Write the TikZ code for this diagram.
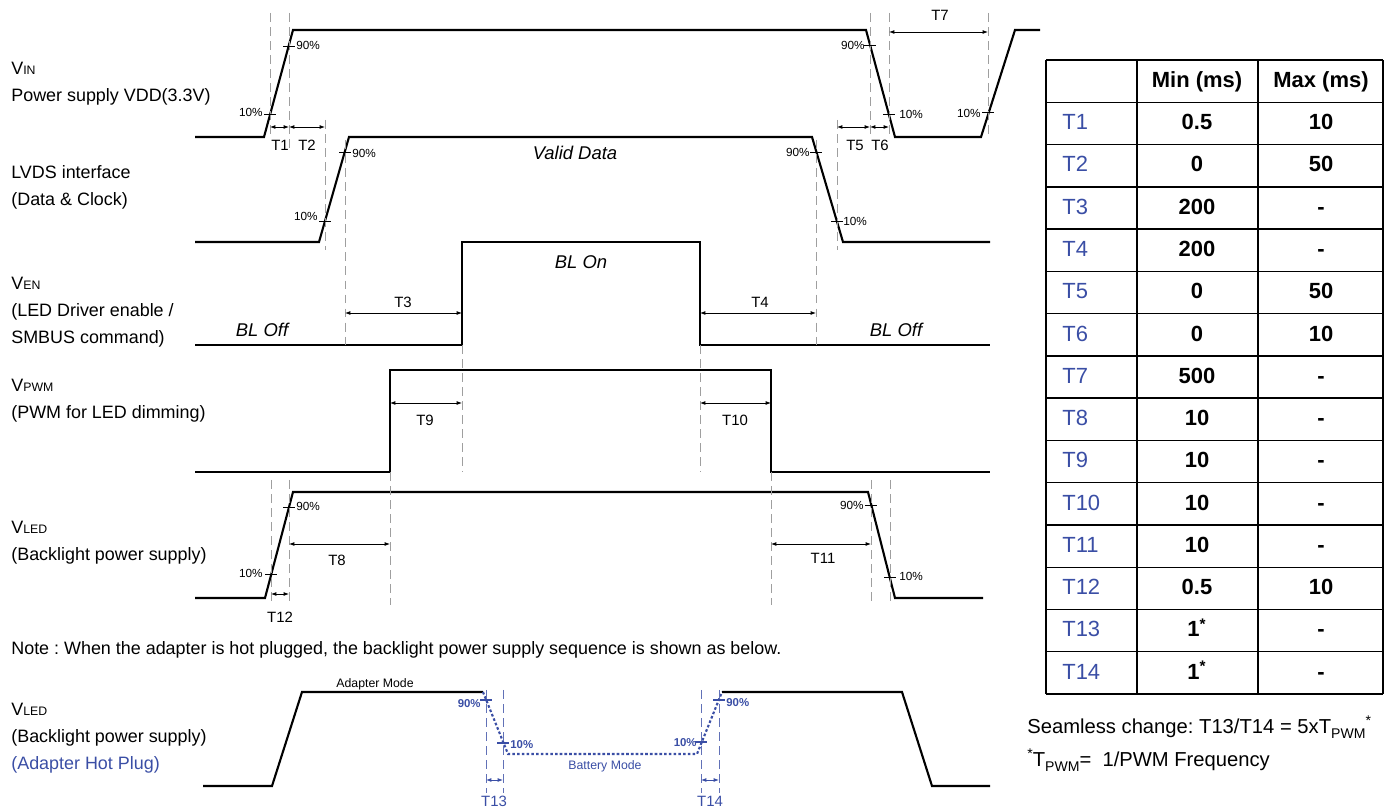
\documentclass[tikz,border=0pt]{standalone}
\usepackage{fontspec}
\setmainfont{Liberation Sans}
\usetikzlibrary{arrows.meta}
\frenchspacing
\definecolor{tblue}{RGB}{58,78,165}
\newcommand{\sigsub}[1]{{\fontsize{7}{8}\selectfont #1}}
\tikzset{
  sig/.style={line width=1.2pt, line join=miter},
  hotsig/.style={line width=1.2pt, tblue, dash pattern=on 1.5pt off 1.2pt},
  guide/.style={gray!75, line width=0.5pt, dash pattern=on 5pt off 3pt},
  hotguide/.style={tblue!80, line width=0.5pt, dash pattern=on 5pt off 3pt},
  dimarr/.style={{Latex[length=3pt,width=2.2pt]}-{Latex[length=3pt,width=2.2pt]}, line width=0.5pt},
  sigtext/.style={font=\fontsize{10.2}{15.3}\selectfont, align=left, anchor=west, inner sep=0pt},
  dimtext/.style={font=\fontsize{8.5}{9}\selectfont, inner sep=0pt},
  pct/.style={font=\fontsize{6.7}{7}\selectfont, inner sep=0pt},
  statetext/.style={font=\fontsize{10.5}{12}\selectfont\itshape, inner sep=0pt},
  modetext/.style={font=\fontsize{7}{8}\selectfont, inner sep=0pt},
  tcell/.style={font=\fontsize{12.5}{14}\selectfont\bfseries, inner sep=0pt,
                text height=0.72em, text depth=0pt},
  tname/.style={font=\fontsize{12.5}{14}\selectfont, text=tblue, anchor=west, inner sep=0pt,
                text height=0.72em, text depth=0pt},
  tgrid/.style={line width=0.8pt},
}

\begin{document}
\begin{tikzpicture}[x=0.02cm, y=-0.02cm]
  \useasboundingbox (0,0) rectangle (1384,810);

  % signal names
  \node[sigtext] (lvin) at (11,83.5) {V\sigsub{IN}\\Power supply VDD(3.3V)};
  \node[sigtext] (llvds) at (11,187.5) {LVDS interface\\(Data \& Clock)};
  \node[sigtext] (lven) at (11,312) {V\sigsub{EN}\\(LED Driver enable /\\SMBUS command)};
  \node[sigtext] (lpwm) at (11,400.5) {V\sigsub{PWM}\\(PWM for LED dimming)};
  \node[sigtext] (lled) at (11,543) {V\sigsub{LED}\\(Backlight power supply)};
  \node[sigtext, anchor=west] (note) at (11,650) {Note : When the adapter is hot plugged, the backlight power supply sequence is shown as below.};
  \node[sigtext] (lhot) at (11,738.5) {V\sigsub{LED}\\(Backlight power supply)\\\textcolor{tblue}{(Adapter Hot Plug)}};

  % waveforms
  \draw[sig] (195,137) -- (264,137) -- (293,30) -- (866,30) -- (895,137) -- (981,137) -- (1015,30) -- (1040,30);
  \draw[sig] (195,242) -- (319,242) -- (349,137) -- (812,137) -- (843,242) -- (990,242);
  \draw[sig] (195,345) -- (462,345) -- (462,242) -- (700,242) -- (700,345) -- (990,345);
  \draw[sig] (195,472) -- (390,472) -- (390,370) -- (771,370) -- (771,472) -- (990,472);
  \draw[sig] (195,598) -- (265,598) -- (293,492) -- (868,492) -- (895,598) -- (983,598);

  % guide lines
  \foreach \x/\ya/\yb in {270/13/135, 289/13/150, 325/120/250, 345/140/345, 816/140/345,
      837/120/250, 870/13/137, 889/13/137, 988/13/137, 462/345/472, 700/345/472,
      390/472/605, 771/472/605, 271/480/605, 289/480/605, 871/480/605, 890/480/605}
    \draw[guide] (\x,\ya) -- (\x,\yb);

  % 10% / 90% marks
  \foreach \x/\y in {270/114, 289/46, 870/45, 889/114, 988/112, 325/221, 345/152,
      816/152, 837/221, 271/574, 289/507, 871/505, 890/577}
    \draw[line width=0.5pt] (\x-6,\y) -- (\x+6,\y);
  \node[pct, anchor=east] (p1) at (263,112) {10\%};
  \node[pct, anchor=west] (p2) at (296,45) {90\%};
  \node[pct, anchor=east] (p3) at (865,45) {90\%};
  \node[pct, anchor=west] (p4) at (899,114) {10\%};
  \node[pct, anchor=east] (p5) at (981,113) {10\%};
  \node[pct, anchor=west] (p6) at (352,153) {90\%};
  \node[pct, anchor=east] (p7) at (318,216) {10\%};
  \node[pct, anchor=east] (p8) at (810,152) {90\%};
  \node[pct, anchor=west] (p9) at (843,221) {10\%};
  \node[pct, anchor=east] (p10) at (263,573) {10\%};
  \node[pct, anchor=west] (p11) at (296,506) {90\%};
  \node[pct, anchor=east] (p12) at (864,505) {90\%};
  \node[pct, anchor=west] (p13) at (899,576) {10\%};

  % timing intervals
  \draw[dimarr] (270,127) -- (289,127);
  \draw[dimarr] (289,127) -- (325,127);
  \draw[dimarr] (837,127) -- (870,127);
  \draw[dimarr] (870,127) -- (889,127);
  \draw[dimarr] (889,32) -- (988,32);
  \draw[dimarr] (345,313) -- (462,313);
  \draw[dimarr] (700,313) -- (816,313);
  \draw[dimarr] (390,403) -- (462,403);
  \draw[dimarr] (700,403) -- (771,403);
  \draw[dimarr] (289,544) -- (390,544);
  \draw[dimarr] (771,544) -- (871,544);
  \draw[dimarr] (271,594) -- (289,594);
  \node[dimtext] (t1) at (280,145) {T1};
  \node[dimtext] (t2) at (307,145) {T2};
  \node[dimtext] (t5) at (855,145) {T5};
  \node[dimtext] (t6) at (880,145) {T6};
  \node[dimtext] (t7) at (940,15) {T7};
  \node[dimtext] (t3) at (403,302) {T3};
  \node[dimtext] (t4) at (760,302) {T4};
  \node[dimtext] (t9) at (425,420) {T9};
  \node[dimtext] (t10) at (735,420) {T10};
  \node[dimtext] (t8) at (337,560) {T8};
  \node[dimtext] (t11) at (823,558) {T11};
  \node[dimtext] (t12) at (280,617) {T12};

  % states
  \node[statetext] (valid) at (575,153) {Valid Data};
  \node[statetext] (blon) at (581,262) {BL On};
  \node[statetext] (bloff1) at (262,330) {BL Off};
  \node[statetext] (bloff2) at (896,330) {BL Off};

  % adapter hot plug
  \draw[sig] (203,786) -- (272,786) -- (302,692) -- (483,692);
  \draw[hotsig] (483,692) -- (508,754) -- (697,754) -- (722,692);
  \draw[sig] (722,692) -- (902,692) -- (932,786) -- (990,786);
  \foreach \x in {486, 503, 701, 719}
    \draw[hotguide] (\x,690) -- (\x,793);
  \foreach \x/\y in {486/700, 503/743, 701/742, 719/700}
    \draw[tblue, line width=0.6pt] (\x-6,\y) -- (\x+6,\y);
  \draw[dimarr, tblue] (486,780) -- (503,780);
  \draw[dimarr, tblue] (701,780) -- (719,780);
  \node[dimtext, text=tblue] (t13) at (494,801) {T13};
  \node[dimtext, text=tblue] (t14) at (710,801) {T14};
  \node[pct, text=tblue, font=\fontsize{6.5}{7}\selectfont\bfseries, anchor=east] (h1) at (481,704) {90\%};
  \node[pct, text=tblue, font=\fontsize{6.5}{7}\selectfont\bfseries, anchor=west] (h2) at (510,745) {10\%};
  \node[pct, text=tblue, font=\fontsize{6.5}{7}\selectfont\bfseries, anchor=east] (h3) at (697,743) {10\%};
  \node[pct, text=tblue, font=\fontsize{6.5}{7}\selectfont\bfseries, anchor=west] (h4) at (726,703) {90\%};
  \node[modetext] (adapter) at (375,684) {Adapter Mode};
  \node[modetext, text=tblue] (battery) at (605,766) {Battery Mode};

  % timing table
  \foreach \k in {0,...,15}
    \draw[tgrid] (1046,{60+42.27*\k}) -- (1383,{60+42.27*\k});
  \foreach \x in {1046,1137,1258,1383}
    \draw[tgrid] (\x,60) -- (\x,694);
  \node[tcell] (hmin) at (1197,81) {Min (ms)};
  \node[tcell] (hmax) at (1321,81) {Max (ms)};
  \foreach \tn/\tmin/\tmax [count=\i] in {T1/0.5/10, T2/0/50, T3/200/-, T4/200/-,
      T5/0/50, T6/0/10, T7/500/-, T8/10/-, T9/10/-, T10/10/-, T11/10/-,
      T12/0.5/10, T13/1\textsuperscript{*}/-, T14/1\textsuperscript{*}/-} {
    \node[tname] (tn\i) at (1062,{81.1+42.27*\i}) {\tn};
    \node[tcell] (tmin\i) at (1197,{81.1+42.27*\i}) {\tmin};
    \node[tcell] (tmax\i) at (1321,{81.1+42.27*\i}) {\tmax};
  }

  % notes
  \node[font=\fontsize{11.5}{13}\selectfont, anchor=west, inner sep=0pt] (seam) at (1027,727)
    {Seamless change: T13/T14 = 5xT\raisebox{-0.45ex}{\fontsize{8}{9}\selectfont PWM}\raisebox{0.8ex}{\fontsize{8}{9}\selectfont *}};
  \node[font=\fontsize{11.5}{13}\selectfont, anchor=west, inner sep=0pt] (tpwm) at (1027,760)
    {\raisebox{0.8ex}{\fontsize{8}{9}\selectfont *}T\raisebox{-0.45ex}{\fontsize{8}{9}\selectfont PWM}=\ \ 1/PWM Frequency};
\end{tikzpicture}
\end{document}
